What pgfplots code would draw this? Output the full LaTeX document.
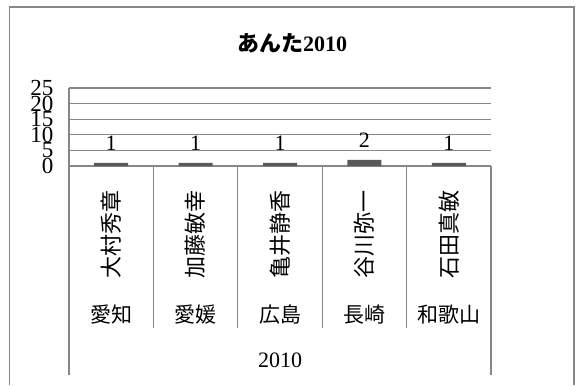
\documentclass[border=0pt]{standalone}
\usepackage{fontspec}
\setmainfont{Liberation Serif}
\newfontfamily\cjk{Noto Sans CJK JP}
\usepackage{graphicx}
\usepackage{pgfplots}
\pgfplotsset{compat=1.18}
\definecolor{gridc}{HTML}{878787}
\definecolor{barc}{HTML}{595959}
\begin{document}
\begin{tikzpicture}[x=1bp,y=1bp]
\useasboundingbox (0,0) rectangle (583,385);
\draw[gridc, line width=1.5bp] (9.5,0) -- (9.5,378) -- (574,378) -- (574,0);
\node[font=\fontsize{22bp}{26bp}\selectfont\bfseries] at (292,342) {{\cjk あんた}2010};
\begin{axis}[
  at={(69bp,219bp)}, anchor=south west, scale only axis,
  width=422bp, height=78bp,
  xmin=-0.5, xmax=4.5, ymin=0, ymax=25,
  enlargelimits=false, clip=false,
  ytick={0,5,...,25},
  ymajorgrids, grid style={gridc, line width=1.2bp},
  axis line style={draw=none},
  tick style={draw=none},
  /pgf/number format/assume math mode=true,
  yticklabel style={font=\fontsize{23bp}{27bp}\selectfont, xshift=-12bp},
  xtick={0,1,2,3,4},
  xticklabels={{\rotatebox{90}{\cjk 大村秀章}},{\rotatebox{90}{\cjk 加藤敏幸}},{\rotatebox{90}{\cjk 亀井静香}},{\rotatebox{90}{\cjk 谷川弥一}},{\rotatebox{90}{\cjk 石田真敏}}},
  xticklabel style={font=\fontsize{22bp}{26bp}\selectfont, anchor=center, yshift=-64bp},
  extra x ticks={0,1,2,3,4},
  extra x tick labels={{\cjk 愛知},{\cjk 愛媛},{\cjk 広島},{\cjk 長崎},{\cjk 和歌山}},
  extra x tick style={xticklabel style={font=\fontsize{21bp}{25bp}\selectfont, yshift=-80bp}},
  xlabel={2010},
  xlabel style={font=\fontsize{22bp}{26bp}\selectfont, at={(axis description cs:0.5,0)}, anchor=center, yshift=-194bp},
  ybar, bar width=34bp,
  nodes near coords,
  every node near coord/.append style={font=\fontsize{22bp}{26bp}\selectfont, yshift=9bp, text=black},
]
\addplot[fill=barc, draw=none] coordinates {(0,1) (1,1) (2,1) (3,2) (4,1)};
\draw[gridc, line width=1.2bp] ([yshift=-209bp]axis cs:-0.5,0) -- (axis cs:-0.5,25);
\draw[gridc, line width=1.2bp] ([yshift=-209bp]axis cs:4.5,0) -- (axis cs:4.5,0);
\draw[gridc, line width=1.2bp] ([yshift=-162bp]axis cs:0.5,0) -- (axis cs:0.5,0);
\draw[gridc, line width=1.2bp] ([yshift=-162bp]axis cs:1.5,0) -- (axis cs:1.5,0);
\draw[gridc, line width=1.2bp] ([yshift=-162bp]axis cs:2.5,0) -- (axis cs:2.5,0);
\draw[gridc, line width=1.2bp] ([yshift=-162bp]axis cs:3.5,0) -- (axis cs:3.5,0);
\end{axis}
\end{tikzpicture}
\end{document}
